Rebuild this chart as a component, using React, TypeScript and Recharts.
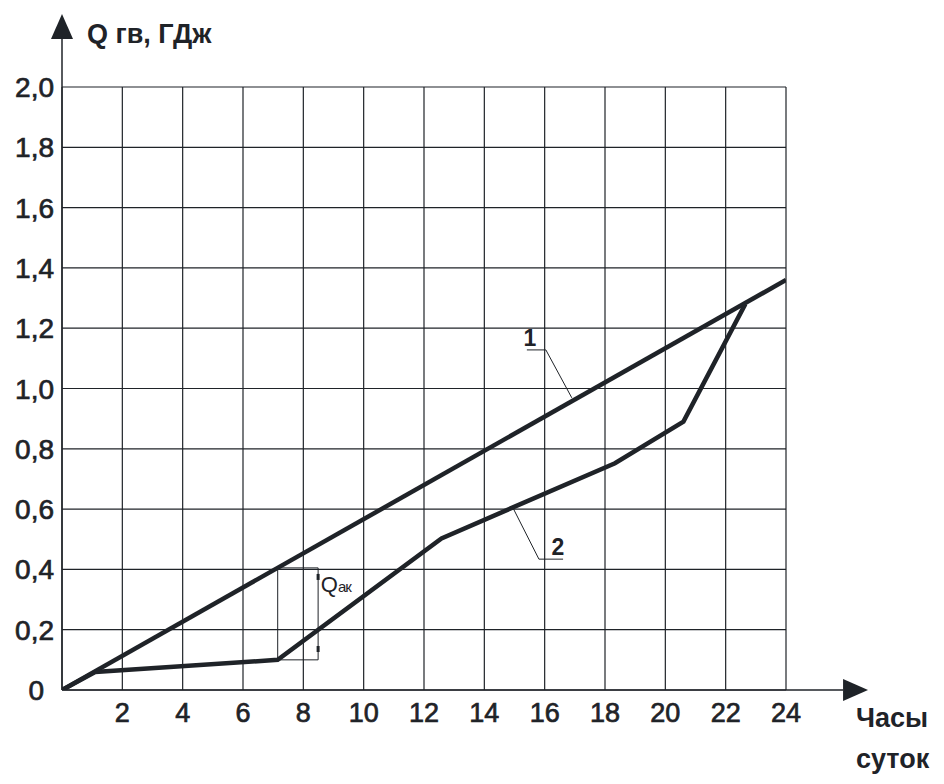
import { LineChart, Line, CartesianGrid, XAxis, YAxis, ReferenceLine, ReferenceDot } from 'recharts';

// hours of the day
const hoursTicks = [0, 2, 4, 6, 8, 10, 12, 14, 16, 18, 20, 22, 24];
const qTicks = [0, 0.2, 0.4, 0.6, 0.8, 1.0, 1.2, 1.4, 1.6, 1.8, 2.0];

// curve 1 - hot water consumption (cumulative)
const curve1Hours = [0, 24];
const curve1Q = [0, 1.36];

// curve 2 - heat supply (cumulative)
const curve2Hours = [0, 1.1, 7.15, 12.58, 18.33, 20.6, 22.65];
const curve2Q = [0, 0.06, 0.1, 0.503, 0.752, 0.89, 1.28];

const curve1 = curve1Hours.map((h, i) => ({ h, q: curve1Q[i] }));
const curve2 = curve2Hours.map((h, i) => ({ h, q: curve2Q[i] }));

const INK = '#1f2328';
const FONT = '"Liberation Sans", Arial, sans-serif';

const ArrowLine = (props: any) => {
  const { x1, y1, x2, y2 } = props;
  const dx = x2 - x1;
  const dy = y2 - y1;
  const len = Math.sqrt(dx * dx + dy * dy) || 1;
  const ux = dx / len;
  const uy = dy / len;
  const ah = 25;
  const aw = 11;
  const bx = x2 - ux * ah;
  const by = y2 - uy * ah;
  const pts = `${x2},${y2} ${bx - uy * aw},${by + ux * aw} ${bx + uy * aw},${by - ux * aw}`;
  return (
    <g>
      <line x1={x1} y1={y1} x2={bx} y2={by} stroke={INK} strokeWidth={1.5} />
      <polygon points={pts} fill={INK} />
    </g>
  );
};

const XTick = (props: any) => {
  const { x, y, payload } = props;
  if (payload.value === 0) return null;
  return (
    <text x={x} y={y + 24} textAnchor="middle" fontSize={27} fontFamily={FONT} fill={INK} stroke={INK} strokeWidth={0.7}>
      {payload.value}
    </text>
  );
};

const YTick = (props: any) => {
  const { x, y, payload } = props;
  const v = payload.value;
  const label = v === 0 ? '0' : v.toFixed(1).replace('.', ',');
  return (
    <text x={v === 0 ? x - 10 : x} y={y + 10} textAnchor="end" fontSize={28} fontFamily={FONT} fill={INK} stroke={INK} strokeWidth={0.7}>
      {label}
    </text>
  );
};

const NumberLabel = (text: string) => (props: any) => (
  <text x={props.cx} y={props.cy + 8} textAnchor="middle" fontSize={23} fontWeight="bold" fontFamily={FONT} fill={INK}>
    {text}
  </text>
);

const QakLabel = (props: any) => (
  <text x={props.cx} y={props.cy + 8} fontFamily={FONT} fill={INK}>
    <tspan fontSize={22}>Q</tspan>
    <tspan fontSize={15} letterSpacing={-1}>ак</tspan>
  </text>
);

const thin = { stroke: INK, strokeWidth: 1, ifOverflow: 'visible' as const };

export default function App() {
  return (
    <div style={{ position: 'absolute', left: 0, top: 0 }}>
      <LineChart
        width={944}
        height={784}
        margin={{ top: 87, right: 158, bottom: 34, left: 2 }}
        style={{ background: '#fff' }}
      >
        <CartesianGrid stroke={INK} strokeWidth={1.2} strokeOpacity={1} />
        <XAxis
          type="number"
          dataKey="h"
          domain={[0, 24]}
          ticks={hoursTicks}
          axisLine={false}
          tickLine={false}
          tick={<XTick />}
          height={60}
          allowDataOverflow
        />
        <YAxis
          type="number"
          dataKey="q"
          domain={[0, 2]}
          ticks={qTicks}
          axisLine={false}
          tickLine={false}
          tick={<YTick />}
          width={60}
          allowDataOverflow
        />

        {/* axes with arrows */}
        <ReferenceLine segment={[{ x: 0, y: 0 }, { x: 0, y: 2.242 }]} ifOverflow="visible" shape={ArrowLine} />
        <ReferenceLine segment={[{ x: 0, y: 0 }, { x: 26.72, y: 0 }]} ifOverflow="visible" shape={ArrowLine} />

        {/* Qак dimension */}
        <ReferenceLine segment={[{ x: 7.15, y: 0.1 }, { x: 7.15, y: 0.405 }]} {...thin} />
        <ReferenceLine segment={[{ x: 7.15, y: 0.1 }, { x: 8.49, y: 0.1 }]} {...thin} />
        <ReferenceLine segment={[{ x: 7.15, y: 0.405 }, { x: 8.49, y: 0.405 }]} {...thin} />
        <ReferenceLine segment={[{ x: 8.49, y: 0.1 }, { x: 8.49, y: 0.405 }]} {...thin} />
        <ReferenceLine segment={[{ x: 8.49, y: 0.365 }, { x: 8.49, y: 0.385 }]} stroke={INK} strokeWidth={3} />
        <ReferenceLine segment={[{ x: 8.49, y: 0.126 }, { x: 8.49, y: 0.146 }]} stroke={INK} strokeWidth={3} />
        <ReferenceDot x={8.58} y={0.35} r={0} shape={QakLabel} />

        {/* leader for curve 1 */}
        <ReferenceLine segment={[{ x: 15.41, y: 1.128 }, { x: 16.04, y: 1.128 }]} {...thin} />
        <ReferenceLine segment={[{ x: 16.04, y: 1.128 }, { x: 16.9, y: 0.969 }]} {...thin} />
        <ReferenceDot x={15.51} y={1.167} r={0} shape={NumberLabel('1')} />

        {/* leader for curve 2 */}
        <ReferenceLine segment={[{ x: 15.81, y: 0.434 }, { x: 16.61, y: 0.434 }]} {...thin} />
        <ReferenceLine segment={[{ x: 15.81, y: 0.434 }, { x: 14.95, y: 0.604 }]} {...thin} />
        <ReferenceDot x={16.44} y={0.474} r={0} shape={NumberLabel('2')} />

        <Line data={curve1} dataKey="q" stroke={INK} strokeWidth={4.5} dot={false} isAnimationActive={false} />
        <Line data={curve2} dataKey="q" stroke={INK} strokeWidth={4.5} dot={false} strokeLinejoin="miter" isAnimationActive={false} />
      </LineChart>

      <div style={{ position: 'absolute', left: 87, top: 19, fontFamily: FONT, fontSize: 27, fontWeight: 'bold', lineHeight: '30px', color: INK, whiteSpace: 'nowrap' }}>
        Q гв, ГДж
      </div>
      <div style={{ position: 'absolute', left: 856, top: 698, fontFamily: FONT, fontSize: 27, fontWeight: 'bold', color: INK, lineHeight: '41px' }}>
        Часы
        <br />
        суток
      </div>
    </div>
  );
}
